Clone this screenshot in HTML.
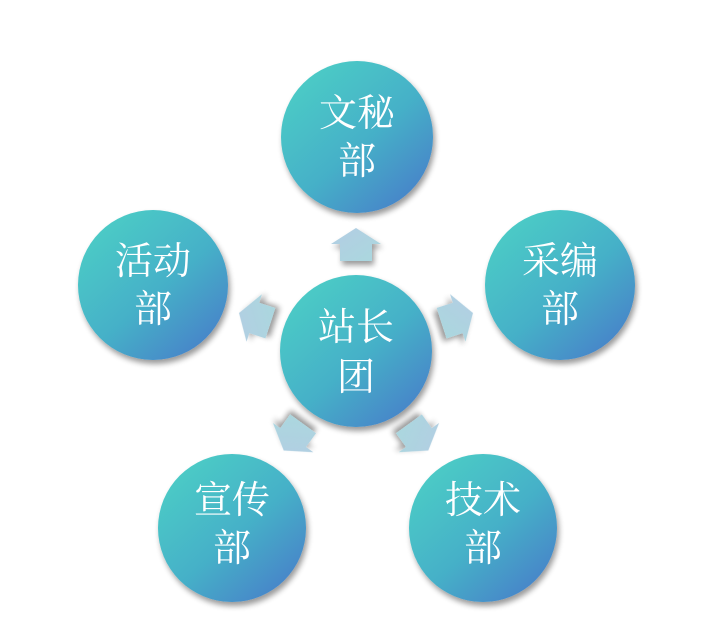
<!DOCTYPE html>
<html><head><meta charset="utf-8"><style>
html,body{margin:0;padding:0;background:#fff;}
svg{display:block}
text{font-family:"Liberation Serif","Noto Serif CJK SC",serif;font-size:38px;fill:#fff;text-anchor:middle;}
</style></head><body>
<svg width="714" height="639" viewBox="0 0 714 639" xmlns="http://www.w3.org/2000/svg">
<defs>
<linearGradient id="g" x1="0.15" y1="0.1" x2="0.85" y2="0.9">
<stop offset="0" stop-color="#4ccbc6"/><stop offset="0.55" stop-color="#45b0c8"/><stop offset="1" stop-color="#4785c9"/>
</linearGradient>
<linearGradient id="a" x1="0" y1="0" x2="1" y2="1">
<stop offset="0" stop-color="#b3cde3"/><stop offset="1" stop-color="#aad8de"/>
</linearGradient>
<filter id="s" x="-20%" y="-20%" width="150%" height="150%">
<feGaussianBlur in="SourceAlpha" stdDeviation="3"/><feOffset dx="2" dy="4"/>
<feComponentTransfer><feFuncA type="linear" slope="0.4"/></feComponentTransfer>
<feMerge><feMergeNode/><feMergeNode in="SourceGraphic"/></feMerge>
</filter>
<g id="arr"><polygon points="0,-17 25,-1 16,-1 16,16 -16,16 -16,-1 -25,-1" fill="url(#a)" filter="url(#s)"/></g>
</defs>
<g transform="translate(356,351)">
<use href="#arr" transform="rotate(0) translate(0,-106)"/>
<use href="#arr" transform="rotate(72) translate(0,-106)"/>
<use href="#arr" transform="rotate(144) translate(0,-106)"/>
<use href="#arr" transform="rotate(216) translate(0,-106)"/>
<use href="#arr" transform="rotate(288) translate(0,-106)"/>
</g>
<g filter="url(#s)" fill="url(#g)">
<circle cx="356" cy="351" r="76"/>
<circle cx="357" cy="137" r="76"/>
<circle cx="153" cy="285" r="75"/>
<circle cx="560" cy="285" r="75"/>
<circle cx="232" cy="528" r="74"/>
<circle cx="483" cy="528" r="74"/>
</g>
<text x="356" y="340">站长</text><text x="356" y="390">团</text>
<text x="357" y="126">文秘</text><text x="357" y="174">部</text>
<text x="153" y="274">活动</text><text x="153" y="322">部</text>
<text x="560" y="274">采编</text><text x="560" y="322">部</text>
<text x="232" y="513">宣传</text><text x="232" y="561">部</text>
<text x="483" y="513">技术</text><text x="483" y="561">部</text>
</svg>
</body></html>
